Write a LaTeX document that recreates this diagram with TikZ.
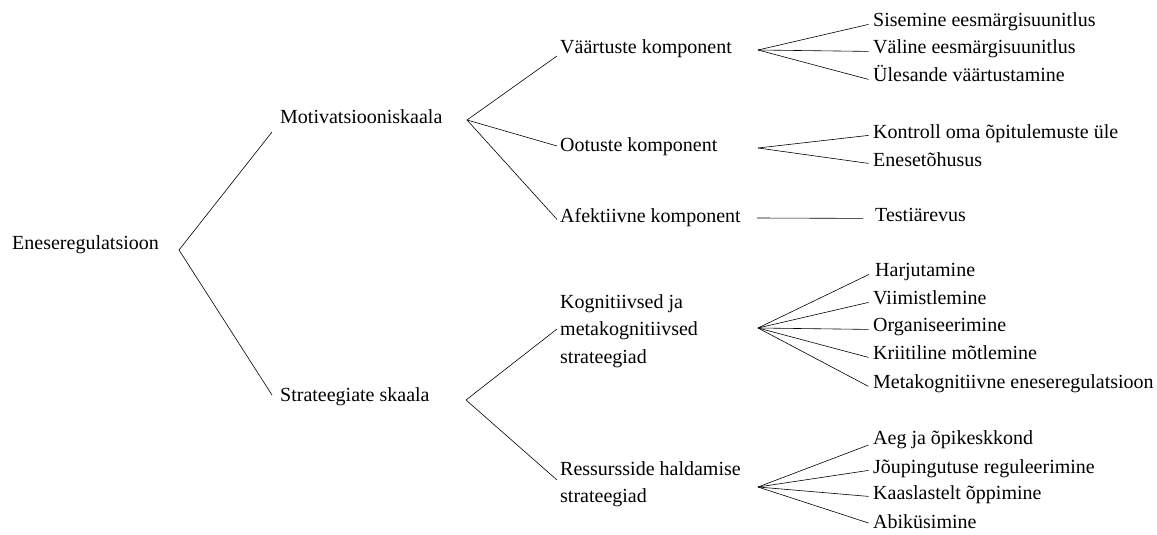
\documentclass[tikz,border=0pt]{standalone}
\usepackage{fontspec}
\setmainfont{Liberation Serif}
\begin{document}
\begin{tikzpicture}[x=1pt,y=-1pt,
  lbl/.style={inner ysep=0pt,text height=0.66em,text depth=0pt,anchor=west,font=\fontsize{20}{27.5}\selectfont},
  lvlone/.style={lbl,inner xsep=8pt},
  lvltwo/.style={lbl,inner xsep=3pt},
  multi/.style={inner ysep=0pt,inner xsep=3pt,anchor=west,align=left,font=\fontsize{20}{27.5}\selectfont},
  leaf/.style={lbl,inner xsep=4.5pt},
  conn/.style={line width=0.6pt,black}]
\useasboundingbox (0,0) rectangle (1157,535);
% root
\node[lbl,inner xsep=0pt] (root) at (12,246.5) {Eneseregulatsioon};
\coordinate (r0) at (179,250);
% level 1
\node[lvlone] (mot) at (272,120.4) {Motivatsiooniskaala};
\node[lvlone] (str) at (272,398.4) {Strateegiate skaala};
\coordinate (m0) at (467,120);
\coordinate (s0) at (466,400);
% level 2
\node[lvltwo] (vaa) at (557,50.4) {Väärtuste komponent};
\node[lvltwo] (oot) at (557,148.4) {Ootuste komponent};
\node[lvltwo] (afe) at (557,219.4) {Afektiivne komponent};
\node[multi] (kog) at (557,331) {Kognitiivsed ja\\metakognitiivsed\\strateegiad};
\node[multi] (res) at (557,484) {Ressursside haldamise\\strateegiad};
\coordinate (v0) at (758,50);
\coordinate (o0) at (758,148);
\coordinate (a0) at (757,218);
\coordinate (k0) at (758,328);
\coordinate (re0) at (758,487);
% leaves
\node[leaf] (sis) at (868.5,23.4) {Sisemine eesmärgisuunitlus};
\node[leaf] (val) at (868.5,50.4) {Väline eesmärgisuunitlus};
\node[leaf] (yle) at (868.5,78.4) {Ülesande väärtustamine};
\node[leaf] (kon) at (868.5,135.4) {Kontroll oma õpitulemuste üle};
\node[leaf] (ene) at (868.5,163.4) {Enesetõhusus};
\node[leaf,inner xsep=12pt] (tes) at (863,218.4) {Testiärevus};
\node[leaf,inner xsep=6pt] (har) at (869,273.4) {Harjutamine};
\node[leaf] (vii) at (868.5,301.4) {Viimistlemine};
\node[leaf] (org) at (868.5,328.4) {Organiseerimine};
\node[leaf] (kri) at (868.5,356.4) {Kriitiline mõtlemine};
\node[leaf] (met) at (868.5,385.4) {Metakognitiivne eneseregulatsioon};
\node[leaf] (aeg) at (868.5,441.4) {Aeg ja õpikeskkond};
\node[leaf] (joe) at (868.5,470.4) {Jõupingutuse reguleerimine};
\node[leaf] (kaa) at (868.5,496.4) {Kaaslastelt õppimine};
\node[leaf] (abi) at (868.5,525.4) {Abiküsimine};
% connectors
\draw[conn] ([yshift=-11.6pt]mot.west) -- (r0) -- ([yshift=3.4pt]str.west);
\draw[conn] ([yshift=-5.6pt]vaa.west) -- (m0) -- ([yshift=2.4pt]oot.west);
\draw[conn] (m0) -- (afe.west);
\draw[conn] ([yshift=2pt]kog.west) -- (s0) -- ([yshift=4pt]res.west);
\foreach \t in {sis,val,yle} \draw[conn] (v0) -- ([yshift=-1pt]\t.west);
\foreach \t in {kon,ene} \draw[conn] (o0) -- (\t.west);
\draw[conn] (a0) -- (tes.west);
\foreach \t in {har,vii,org,kri,met} \draw[conn] (k0) -- ([yshift=-1pt]\t.west);
\draw[conn] (re0) -- ([yshift=-3.6pt]aeg.west);
\foreach \t in {joe,kaa} \draw[conn] (re0) -- (\t.west);
\draw[conn] (re0) -- ([yshift=2.4pt]abi.west);
\end{tikzpicture}
\end{document}
